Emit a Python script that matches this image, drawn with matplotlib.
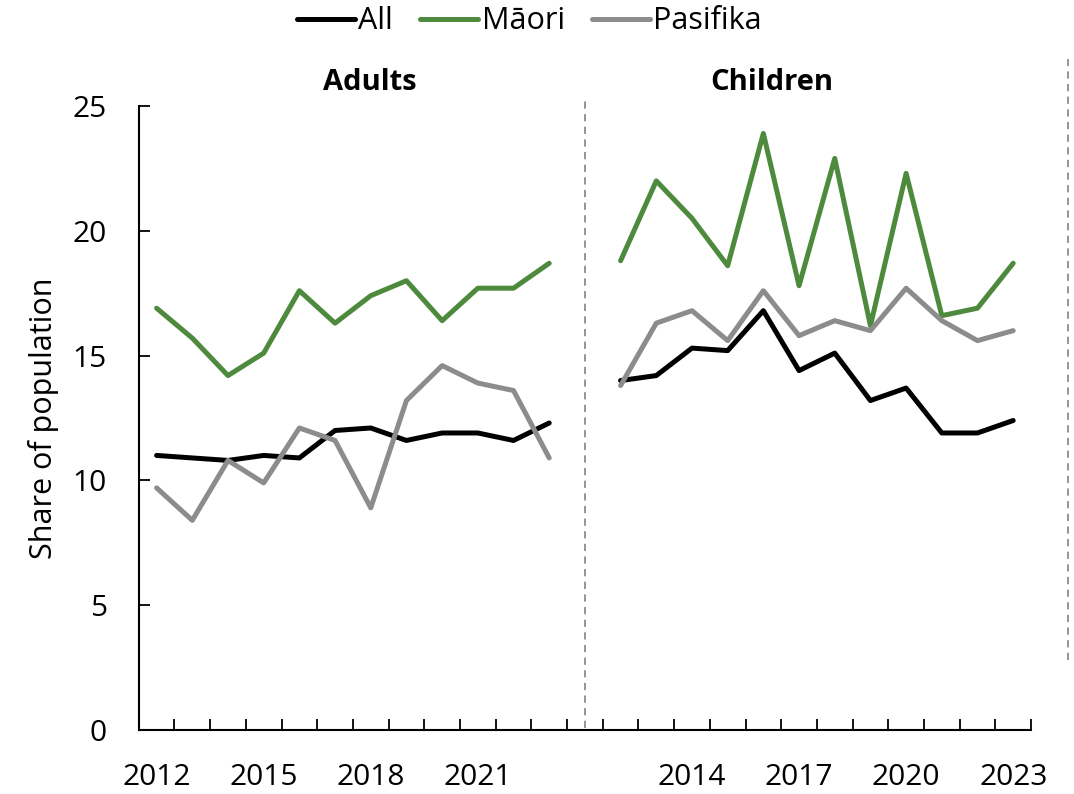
import matplotlib.pyplot as plt
from matplotlib.ticker import FixedLocator, NullFormatter

plt.rcParams['font.family'] = ['Open Sans', 'DejaVu Sans']

years = list(range(2012, 2024))

adults_all      = [11.0, 10.9, 10.8, 11.0, 10.9, 12.0, 12.1, 11.6, 11.9, 11.9, 11.6, 12.3]
adults_maori    = [16.9, 15.7, 14.2, 15.1, 17.6, 16.3, 17.4, 18.0, 16.4, 17.7, 17.7, 18.7]
adults_pasifika = [9.7, 8.4, 10.8, 9.9, 12.1, 11.6, 8.9, 13.2, 14.6, 13.9, 13.6, 10.9]

children_all      = [14.0, 14.2, 15.3, 15.2, 16.8, 14.4, 15.1, 13.2, 13.7, 11.9, 11.9, 12.4]
children_maori    = [18.8, 22.0, 20.5, 18.6, 23.9, 17.8, 22.9, 16.2, 22.3, 16.6, 16.9, 18.7]
children_pasifika = [13.8, 16.3, 16.8, 15.6, 17.6, 15.8, 16.4, 16.0, 17.7, 16.4, 15.6, 16.0]

adult_labels = [2012, 2015, 2018, 2021]
child_labels = [2014, 2017, 2020, 2023]

series = [
    ("All",      adults_all,      children_all,      "black"),
    ("Māori",    adults_maori,    children_maori,    "#4e8a3e"),
    ("Pasifika", adults_pasifika, children_pasifika, "#8c8c8c"),
]

# categorical slots: 12 adult years, one gap, 12 child years
n = len(years)
x_adult = list(range(n))
x_child = [n + 1 + i for i in range(n)]
n_slots = 2 * n + 1

fig = plt.figure(figsize=(10.74, 7.94), dpi=100)
ax = fig.add_axes([0.1292, 0.0806, 0.8308, 0.7859])

for label, a_vals, c_vals, color in series:
    ax.plot(x_adult, a_vals, color=color, lw=3.6, label=label,
            solid_capstyle='round', solid_joinstyle='round')
    ax.plot(x_child, c_vals, color=color, lw=3.6,
            solid_capstyle='round', solid_joinstyle='round')

ax.set_xlim(-0.5, n_slots - 0.5)
ax.set_ylim(0, 25)
ax.set_yticks([0, 5, 10, 15, 20, 25])

# tick marks between categories, labels on chosen years
ax.xaxis.set_major_locator(FixedLocator([i - 0.5 for i in range(n_slots + 1)]))
ax.xaxis.set_major_formatter(NullFormatter())
lab_pos = [x_adult[years.index(y)] for y in adult_labels] + \
          [x_child[years.index(y)] for y in child_labels]
ax.set_xticks(lab_pos, minor=True)
ax.set_xticklabels([str(y) for y in adult_labels + child_labels], minor=True)
ax.tick_params(axis='x', which='major', direction='in', length=8, width=1.3)
ax.tick_params(axis='x', which='minor', length=0, pad=24, labelsize=21.5)
ax.tick_params(axis='y', direction='in', length=8, width=1.3, pad=23, labelsize=21.5)

for side in ['top', 'right']:
    ax.spines[side].set_visible(False)
for side in ['left', 'bottom']:
    ax.spines[side].set_linewidth(1.5)

ax.set_ylabel('Share of population', fontsize=22, labelpad=10)

# panel separator and right-hand dashed line
ax.plot([n, n], [0.1, 25.2], color='#8c8c8c', lw=1.3, ls=(0, (4, 3)), clip_on=False)
ax.plot([25.53, 25.53], [2.8, 26.9], color='#8c8c8c', lw=1.3, ls=(0, (4, 3)), clip_on=False)

ax.text(5.98, 25.95, 'Adults', ha='center', va='center', fontsize=21, fontweight='bold')
ax.text(17.24, 25.95, 'Children', ha='center', va='center', fontsize=21, fontweight='bold')

fig.legend(loc='center', bbox_to_anchor=(0.493, 0.973), ncol=3, frameon=False,
           fontsize=22, handlelength=1.9, handletextpad=0.1, columnspacing=0.9)

fig.savefig('out.png', dpi=100)
